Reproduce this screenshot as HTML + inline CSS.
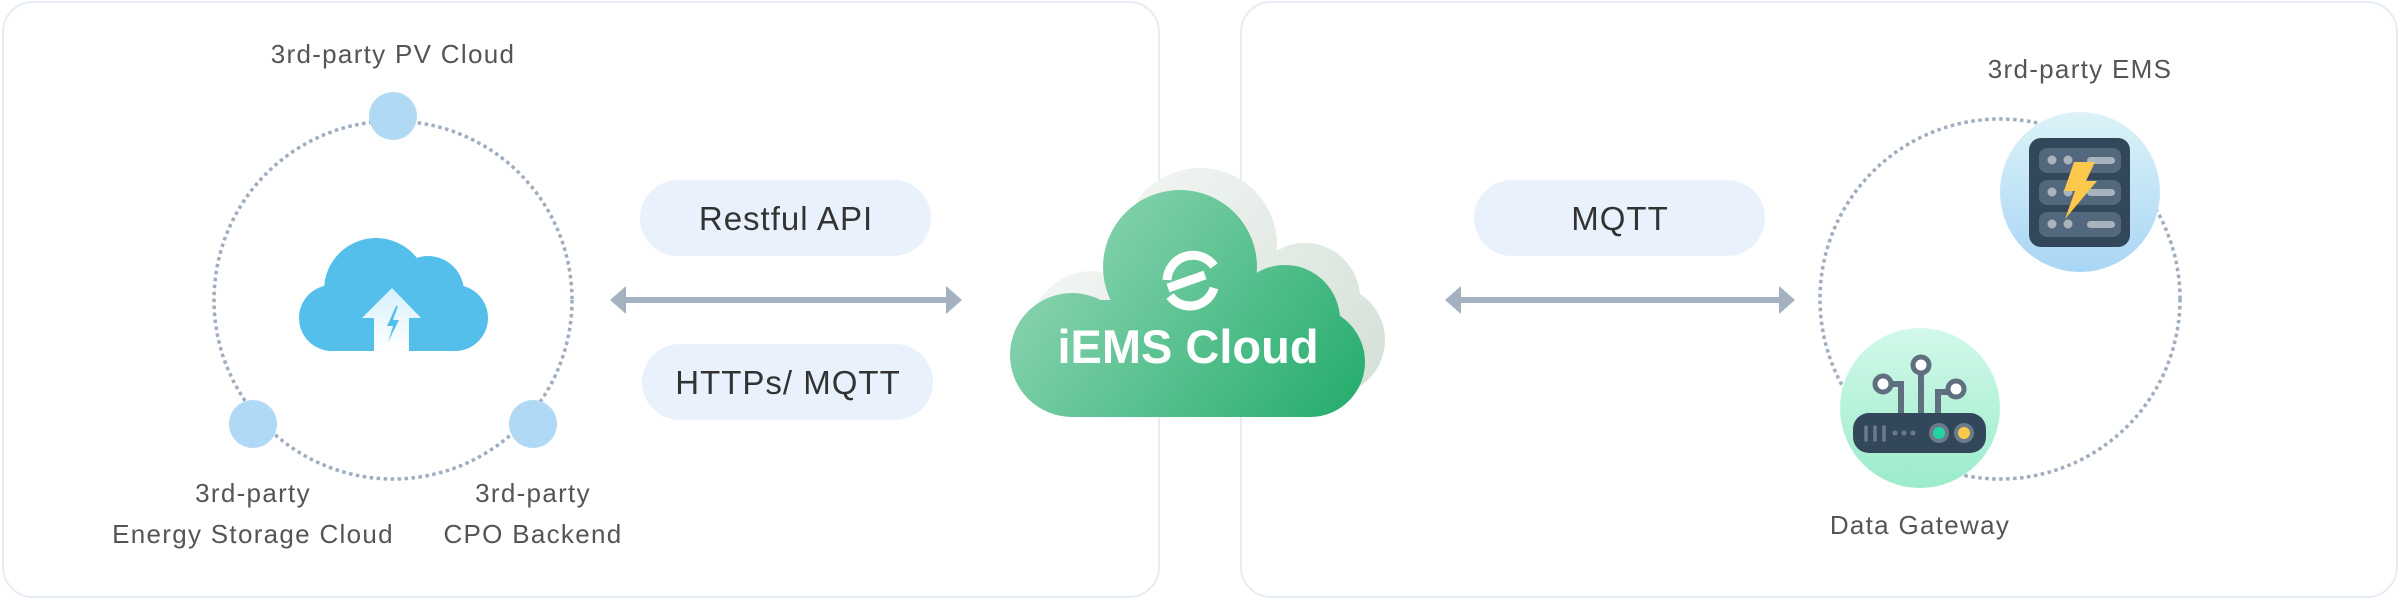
<!DOCTYPE html>
<html><head><meta charset="utf-8"><style>
html,body{margin:0;padding:0;background:#fff;}
svg{display:block;font-family:"Liberation Sans",sans-serif;}
</style></head><body>
<svg width="2400" height="600" viewBox="0 0 2400 600" xmlns="http://www.w3.org/2000/svg">
<defs>
<linearGradient id="gg" gradientUnits="userSpaceOnUse" x1="1040" y1="190" x2="1340" y2="420">
<stop offset="0" stop-color="#95d8b8"/><stop offset="1" stop-color="#28ae6e"/></linearGradient>
<linearGradient id="sg" gradientUnits="userSpaceOnUse" x1="1100" y1="170" x2="1390" y2="400">
<stop offset="0" stop-color="#f4f7f5"/><stop offset="1" stop-color="#d3dfd6"/></linearGradient>
<linearGradient id="ag" x1="0" y1="0" x2="0" y2="1">
<stop offset="0" stop-color="#d6f0fb"/><stop offset="1" stop-color="#ffffff"/></linearGradient>
<linearGradient id="eg" x1="0" y1="0" x2="0" y2="1">
<stop offset="0" stop-color="#dcf3f7"/><stop offset="1" stop-color="#a9d5f5"/></linearGradient>
<linearGradient id="dg" x1="0" y1="0" x2="0" y2="1">
<stop offset="0" stop-color="#d2f9ea"/><stop offset="1" stop-color="#9cebcb"/></linearGradient>
</defs>
<rect x="3" y="2" width="1156" height="595" rx="30" fill="#fff" stroke="#e6ecf6" stroke-width="2"/>
<rect x="1241" y="2" width="1156" height="595" rx="30" fill="#fff" stroke="#e6ecf6" stroke-width="2"/>

<!-- left ring -->
<circle cx="393" cy="300" r="179" fill="none" stroke="#9fadbf" stroke-width="3.5" stroke-dasharray="3.5 3.5"/>
<circle cx="393" cy="116" r="24" fill="#afd9f5"/>
<circle cx="253" cy="424" r="24" fill="#afd9f5"/>
<circle cx="533" cy="424" r="24" fill="#afd9f5"/>
<g font-size="26" fill="#555" text-anchor="middle" letter-spacing="1.3">
<text x="393" y="63">3rd-party PV Cloud</text>
<text x="253" y="502">3rd-party</text>
<text x="253" y="543">Energy Storage Cloud</text>
<text x="533" y="502">3rd-party</text>
<text x="533" y="543">CPO Backend</text>
</g>
<!-- blue cloud -->
<g fill="#55bfeb">
<circle cx="376" cy="290" r="52"/>
<circle cx="332" cy="318" r="33"/>
<circle cx="428" cy="292" r="36"/>
<circle cx="455" cy="318" r="33"/>
<rect x="330" y="300" width="126" height="51"/>
</g>
<path d="M392,288 L421,318 L409,318 L409,351 L374,351 L374,318 L362,318 Z" fill="url(#ag)"/>
<path d="M396,306 L387,326 L393,326 L388,342 L399,320 L393,320 L398,306 Z" fill="#55bfeb"/>

<!-- pills/arrows -->
<rect x="640" y="180" width="291" height="76" rx="38" fill="#e9f1fd"/>
<rect x="642" y="344" width="291" height="76" rx="38" fill="#e9f1fd"/>
<g font-size="33" fill="#333" text-anchor="middle" letter-spacing="1">
<text x="786" y="230">Restful API</text>
<text x="788" y="394">HTTPs/ MQTT</text>
</g>
<g fill="#a3b1c0">
<rect x="622" y="297" width="330" height="6"/>
<path d="M610,300 L626,286 L626,314 Z"/>
<path d="M962,300 L946,286 L946,314 Z"/>
<rect x="1457" y="297" width="326" height="6"/>
<path d="M1445,300 L1461,286 L1461,314 Z"/>
<path d="M1795,300 L1779,286 L1779,314 Z"/>
</g>
<rect x="1474" y="180" width="291" height="76" rx="38" fill="#e9f1fd"/>
<text x="1620" y="230" font-size="33" fill="#333" text-anchor="middle" letter-spacing="1">MQTT</text>

<!-- green cloud shadow -->
<g fill="url(#sg)" transform="translate(20,-22)">
<circle cx="1072" cy="355" r="62"/>
<circle cx="1180" cy="267" r="77"/>
<circle cx="1285" cy="320" r="55"/>
<circle cx="1310" cy="362" r="55"/>
<rect x="1072" y="300" width="240" height="117"/>
</g>
<g fill="url(#gg)">
<circle cx="1072" cy="355" r="62"/>
<circle cx="1180" cy="267" r="77"/>
<circle cx="1285" cy="320" r="55"/>
<circle cx="1310" cy="362" r="55"/>
<rect x="1072" y="300" width="240" height="117"/>
</g>
<g fill="none" stroke="#fff" stroke-width="9" stroke-linecap="butt">
<path d="M1167,280 A26,26 0 0 1 1214,266"/>
<path d="M1168,288 L1205,275"/>
<path d="M1170,296 A25,25 0 0 0 1214,288"/>
</g>
<text x="1188" y="363" font-size="47" font-weight="bold" fill="#fff" text-anchor="middle">iEMS Cloud</text>

<!-- right ring -->
<circle cx="2000" cy="299" r="180" fill="none" stroke="#9fadbf" stroke-width="3.5" stroke-dasharray="3.5 3.5"/>
<circle cx="2080" cy="192" r="80" fill="url(#eg)"/>
<rect x="2029" y="138" width="101" height="109" rx="12" fill="#33475b"/>
<g fill="#53687c">
<rect x="2039" y="148" width="82" height="25" rx="8"/>
<rect x="2039" y="180" width="82" height="25" rx="8"/>
<rect x="2039" y="212" width="82" height="25" rx="8"/>
</g>
<g fill="#a9b3bd">
<circle cx="2052" cy="160" r="4.5"/><circle cx="2068" cy="160" r="4.5"/>
<circle cx="2052" cy="192" r="4.5"/><circle cx="2068" cy="192" r="4.5"/>
<circle cx="2052" cy="224" r="4.5"/><circle cx="2068" cy="224" r="4.5"/>
<rect x="2087" y="157" width="28" height="7" rx="3.5"/>
<rect x="2087" y="189" width="28" height="7" rx="3.5"/>
<rect x="2087" y="221" width="28" height="7" rx="3.5"/>
</g>
<path d="M2074,162 L2095,162 L2086,181 L2097,181 L2065,219 L2075,191 L2064,191 Z" fill="#fcc84c"/>
<text x="2080" y="78" font-size="26" fill="#555" text-anchor="middle" letter-spacing="1.3">3rd-party EMS</text>

<circle cx="1920" cy="408" r="80" fill="url(#dg)"/>
<g stroke="#5f6f7f" stroke-width="6" fill="none">
<path d="M1921,413 L1921,374"/>
<path d="M1901,413 L1901,384 L1890,384"/>
<path d="M1938,413 L1938,392 L1949,392"/>
</g>
<g fill="#fff" stroke="#5f6f7f" stroke-width="5">
<circle cx="1921" cy="365" r="8"/>
<circle cx="1883" cy="384" r="8"/>
<circle cx="1956" cy="389" r="8"/>
</g>
<rect x="1853" y="413" width="133" height="40" rx="16" fill="#33475b"/>
<g stroke="#6b7b8b" stroke-width="3.5" stroke-linecap="round">
<path d="M1866,427 V440 M1875,427 V440 M1884,427 V440"/>
</g>
<g fill="#6b7b8b">
<circle cx="1895" cy="433" r="2.5"/><circle cx="1904" cy="433" r="2.5"/><circle cx="1913" cy="433" r="2.5"/>
<circle cx="1939" cy="433" r="10"/><circle cx="1964" cy="433" r="10"/>
</g>
<circle cx="1939" cy="433" r="6" fill="#23d3a0"/>
<circle cx="1964" cy="433" r="6" fill="#fcc84c"/>
<text x="1920" y="534" font-size="26" fill="#555" text-anchor="middle" letter-spacing="1.3">Data Gateway</text>
</svg>
</body></html>
